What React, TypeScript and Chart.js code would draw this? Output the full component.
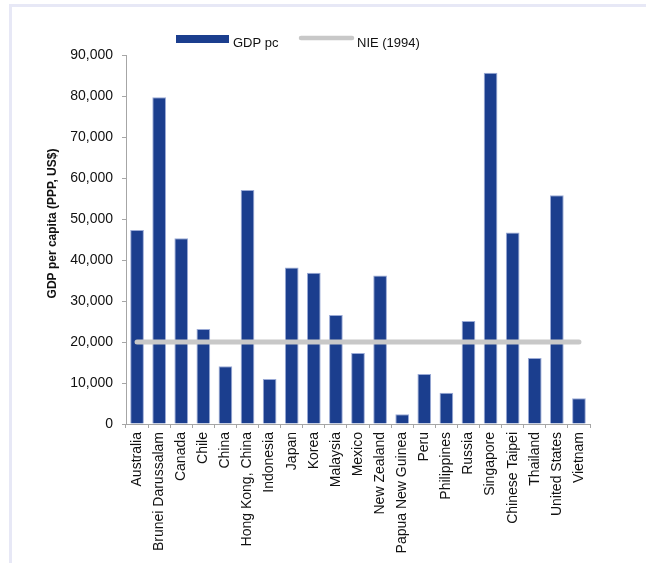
import { useEffect, useRef } from 'react';
import { Chart, registerables } from 'chart.js';

Chart.register(...registerables);

const categories = [
  'Australia', 'Brunei Darussalam', 'Canada', 'Chile', 'China', 'Hong Kong, China',
  'Indonesia', 'Japan', 'Korea', 'Malaysia', 'Mexico', 'New Zealand',
  'Papua New Guinea', 'Peru', 'Philippines', 'Russia', 'Singapore', 'Chinese Taipei',
  'Thailand', 'United States', 'Vietnam',
];

const gdpPc = [
  47300, 79700, 45300, 23200, 14100, 57100,
  11000, 38200, 36900, 26600, 17300, 36200,
  2400, 12200, 7600, 25100, 85700, 46700,
  16100, 55800, 6300,
];

const nie1994 = [
  20000, 20000, 20000, 20000, 20000, 20000,
  20000, 20000, 20000, 20000, 20000, 20000,
  20000, 20000, 20000, 20000, 20000, 20000,
  20000, 20000, 20000,
];

const yMin = 0;
const yMax = 90000;
const yStep = 10000;

const seriesNames = ['GDP pc', 'NIE (1994)'];
const yTitle = 'GDP per capita (PPP, US$)';

const BAR_COLOR = '#1b3e8e';
const BAR_EDGE = '#9aaad6';
const LINE_COLOR = '#c8c8c8';
const AXIS_COLOR = '#a6a6a6';
const TEXT_COLOR = '#111111';
const FONT = '"Liberation Sans", Arial, sans-serif';

const overlayPlugin = {
  id: 'overlay',
  afterDraw(chart: any) {
    const { ctx, chartArea } = chart;
    const { left, top, bottom } = chartArea;
    ctx.save();
    // Y axis title
    ctx.font = `bold 12px ${FONT}`;
    ctx.fillStyle = TEXT_COLOR;
    ctx.textAlign = 'center';
    ctx.textBaseline = 'middle';
    ctx.translate(left - 73, (top + bottom) / 2 - 16);
    ctx.rotate(-Math.PI / 2);
    ctx.fillText(yTitle, 0, 0);
    ctx.restore();

    // Legend
    ctx.save();
    ctx.font = `13px ${FONT}`;
    ctx.fillStyle = TEXT_COLOR;
    ctx.textAlign = 'left';
    ctx.textBaseline = 'alphabetic';
    const ly = top - 8;
    // bar swatch
    ctx.fillStyle = BAR_COLOR;
    ctx.fillRect(left + 50, top - 20, 53, 8);
    ctx.fillStyle = TEXT_COLOR;
    ctx.fillText(seriesNames[0], left + 107, ly);
    // line swatch
    ctx.strokeStyle = LINE_COLOR;
    ctx.lineWidth = 4.5;
    ctx.lineCap = 'round';
    ctx.beginPath();
    ctx.moveTo(left + 175, top - 17);
    ctx.lineTo(left + 226, top - 17);
    ctx.stroke();
    ctx.fillText(seriesNames[1], left + 231, ly);
    ctx.restore();
  },
};

export default function App() {
  const canvasRef = useRef<HTMLCanvasElement | null>(null);

  useEffect(() => {
    const canvas = canvasRef.current;
    if (!canvas) return;
    const chart = new Chart(canvas, {
      type: 'bar',
      data: {
        labels: categories,
        datasets: [
          {
            type: 'line',
            label: seriesNames[1],
            data: nie1994,
            borderColor: LINE_COLOR,
            backgroundColor: LINE_COLOR,
            borderWidth: 5,
            borderCapStyle: 'round',
            pointRadius: 0,
            pointHoverRadius: 0,
            fill: false,
            order: 0,
          } as any,
          {
            type: 'bar',
            label: seriesNames[0],
            data: gdpPc,
            backgroundColor: BAR_COLOR,
            borderColor: BAR_EDGE,
            borderWidth: 1,
            barPercentage: 0.62,
            categoryPercentage: 1,
            order: 1,
          } as any,
        ],
      },
      options: {
        responsive: false,
        animation: false,
        devicePixelRatio: 1,
        events: [],
        layout: { padding: { top: 55, right: 56, bottom: 0, left: 0 } },
        plugins: {
          legend: { display: false },
          tooltip: { enabled: false },
          title: { display: false },
        },
        scales: {
          x: {
            offset: true,
            grid: {
              offset: true,
              drawOnChartArea: false,
              drawTicks: true,
              tickLength: 4,
              color: AXIS_COLOR,
            },
            border: { color: AXIS_COLOR, width: 1 },
            ticks: {
              autoSkip: false,
              minRotation: 90,
              maxRotation: 90,
              padding: 4,
              color: TEXT_COLOR,
              font: { family: FONT, size: 14 },
            },
            afterFit(scale: any) {
              scale.height = 139;
            },
          },
          y: {
            min: yMin,
            max: yMax,
            grid: {
              drawOnChartArea: false,
              drawTicks: true,
              tickLength: 4,
              color: AXIS_COLOR,
            },
            border: { color: AXIS_COLOR, width: 1 },
            ticks: {
              stepSize: yStep,
              padding: 9,
              color: TEXT_COLOR,
              font: { family: FONT, size: 14 },
              callback: (v: any) => Number(v).toLocaleString('en-US'),
            },
            afterFit(scale: any) {
              scale.width = 126;
            },
          },
        },
      },
      plugins: [overlayPlugin],
    });
    return () => chart.destroy();
  }, []);

  return (
    <div style={{ position: 'fixed', left: 0, top: 0, width: 646, height: 563, background: '#fff' }}>
      <div
        style={{
          position: 'absolute',
          left: 9,
          top: 4,
          right: 0,
          bottom: 0,
          borderTop: '3px solid #e7e8f6',
          borderLeft: '3px solid #e7e8f6',
        }}
      />
      <canvas
        ref={canvasRef}
        width={646}
        height={563}
        style={{ position: 'absolute', left: 0, top: 0, width: 646, height: 563 }}
      />
    </div>
  );
}
